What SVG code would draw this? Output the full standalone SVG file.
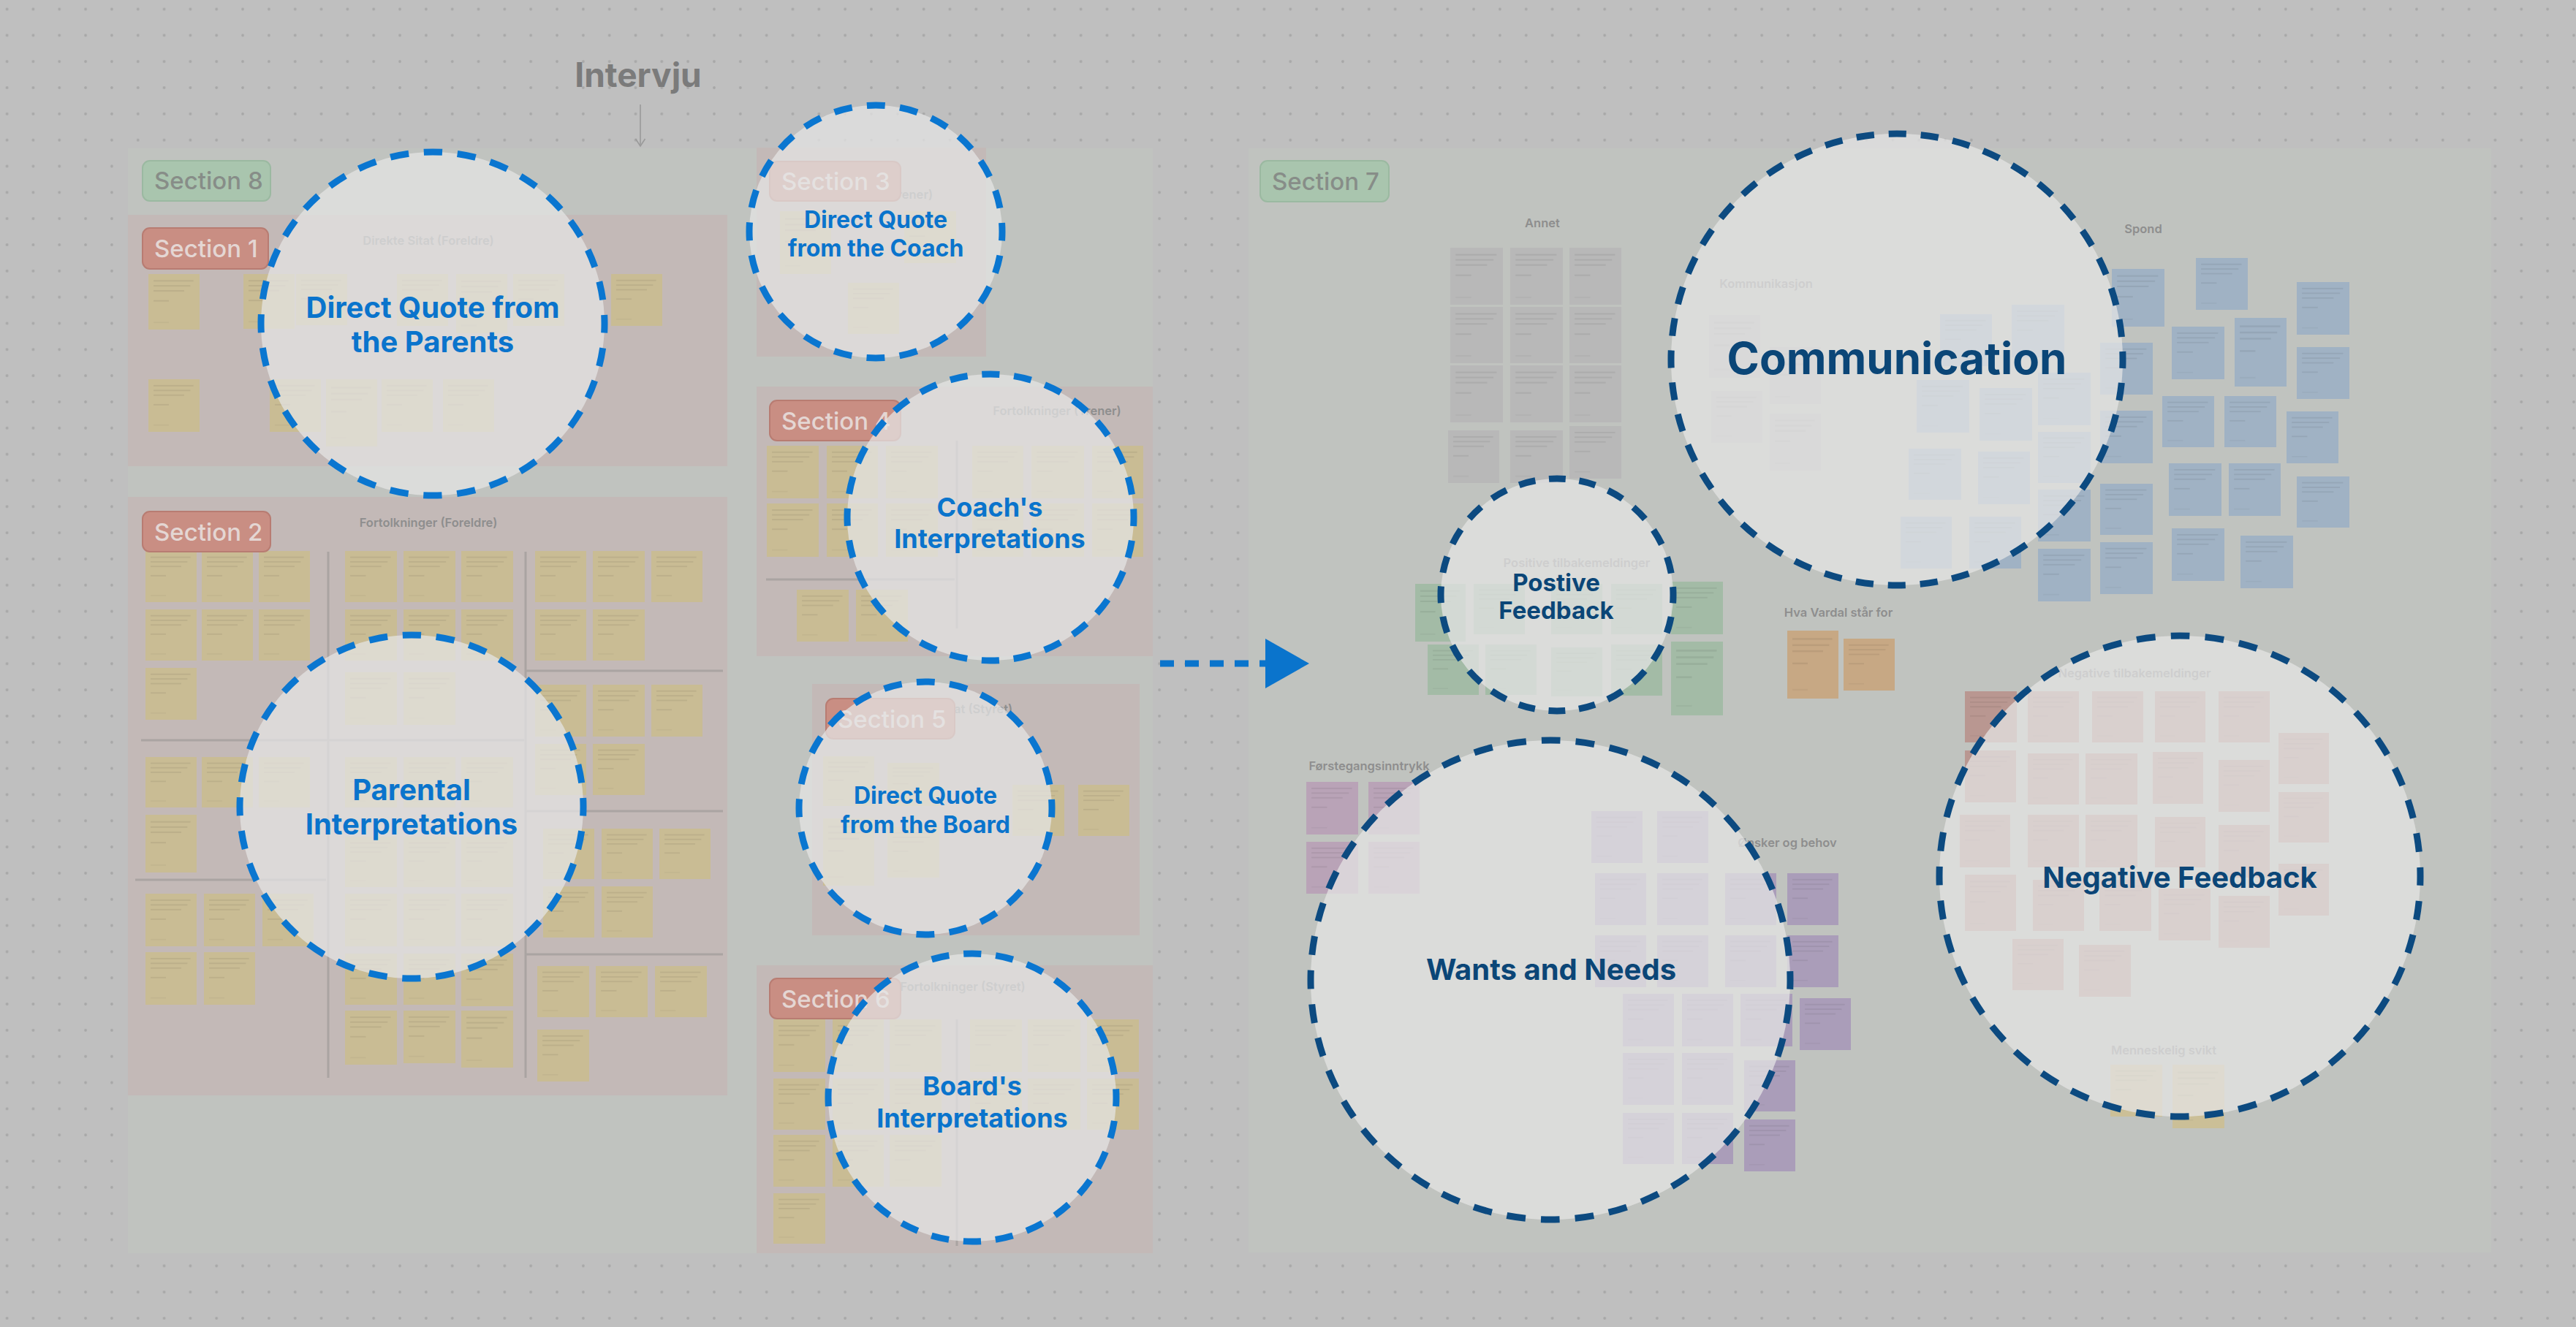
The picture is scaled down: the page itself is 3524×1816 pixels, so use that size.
<svg xmlns="http://www.w3.org/2000/svg" width="3524" height="1816" viewBox="0 0 3524 1816">
<defs>
<pattern id="dots" patternUnits="userSpaceOnUse" x="-8.3" y="-5.4" width="35.83" height="35.83"><circle cx="17.9" cy="17.9" r="1.9" fill="#a7a7a7"/></pattern>
<pattern id="tl" patternUnits="objectBoundingBox" patternContentUnits="objectBoundingBox" x="0" y="0" width="1" height="1">
<g fill="#000" fill-opacity="0.065">
<rect x="0.1" y="0.11" width="0.78" height="0.026"/>
<rect x="0.1" y="0.2" width="0.72" height="0.026"/>
<rect x="0.1" y="0.29" width="0.6" height="0.026"/>
<rect x="0.1" y="0.47" width="0.3" height="0.026"/>
</g>
<rect x="0.1" y="0.86" width="0.3" height="0.022" fill="#000" fill-opacity="0.035"/>
</pattern>
<style>
.area{fill:#c0c3bf}
.sec{fill:#c3b9b7}
.lblR{fill:#c98e83;stroke:#b87c72;stroke-width:2}
.lblG{fill:#a9c5ae;stroke:#9bb9a1;stroke-width:2}
.lt{font-family:Inter,"Liberation Sans",sans-serif;font-weight:500;font-size:33px}
.ltR{fill:#e4d6d3}
.ltG{fill:#878d88}
.ttl{font-family:Inter,"Liberation Sans",sans-serif;font-weight:600;font-size:16.5px;fill:#8e8e8e;text-anchor:middle}
.div{stroke:#aaa4a2;stroke-width:3;fill:none}
.cb{fill:#e4e4e4;fill-opacity:0.74;stroke:#0a76d0;stroke-width:9}
.cn{fill:#e4e4e4;fill-opacity:0.74;stroke:#0c4a80;stroke-width:9}
.tb{font-family:Inter,"Liberation Sans",sans-serif;font-weight:700;fill:#0a74cc;text-anchor:middle}
.tn{font-family:Inter,"Liberation Sans",sans-serif;font-weight:700;fill:#0b4677;text-anchor:middle}
</style>
</defs>

<rect x="0" y="0" width="3524" height="1816" fill="#bfbfbf"/>
<rect x="0" y="0" width="3524" height="1816" fill="url(#dots)"/>

<!-- Big section areas -->
<g id="section8">
<rect class="area" x="175" y="203" width="1402" height="1512"/>
<rect class="lblG" x="195" y="220" width="175" height="55" rx="10"/>
<text class="lt ltG" x="211" y="259">Section 8</text>
</g>
<g id="section7">
<rect class="area" x="1708" y="203" width="1700" height="1511"/>
<rect class="lblG" x="1724" y="220" width="176" height="56" rx="10"/>
<text class="lt ltG" x="1740" y="260">Section 7</text>
</g>

<!-- Section 1 -->
<g id="section1">
<rect class="sec" x="175" y="294" width="820" height="344"/>
<text class="ttl" x="586" y="335">Direkte Sitat (Foreldre)</text>
<g fill="#c9bc94"><g id="st1">
<rect x="203" y="375" width="70" height="76"/><rect x="333" y="375" width="70" height="75"/><rect x="405" y="375" width="70" height="70"/>
<rect x="543" y="375" width="70" height="71"/><rect x="624" y="375" width="70" height="81"/><rect x="702" y="375" width="70" height="71"/>
<rect x="836" y="375" width="70" height="71"/>
<rect x="203" y="519" width="70" height="72"/><rect x="369" y="519" width="70" height="72"/><rect x="446" y="519" width="70" height="92"/>
<rect x="522" y="519" width="70" height="72"/><rect x="606" y="519" width="70" height="72"/>
</g></g>
<use href="#st1" fill="url(#tl)"/>
<rect class="lblR" x="195" y="312" width="172" height="56" rx="10"/>
<text class="lt ltR" x="211" y="352">Section 1</text>
</g>

<!-- Section 2 -->
<g id="section2">
<rect class="sec" x="175" y="680" width="820" height="819"/>
<text class="ttl" x="586" y="721">Fortolkninger (Foreldre)</text>
<path class="div" d="M449 755V1475M719 755V1475M193 1013H717M185 1204H446M720 918H989M720 1110H989M720 1306H989"/>
<g fill="#c9bc94"><g id="st2">
<rect x="199" y="754" width="70" height="70"/><rect x="276" y="754" width="70" height="70"/><rect x="354" y="754" width="70" height="70"/>
<rect x="199" y="834" width="70" height="70"/><rect x="276" y="834" width="70" height="70"/><rect x="354" y="834" width="70" height="70"/>
<rect x="199" y="914" width="70" height="71"/>
<rect x="472" y="754" width="71" height="70"/><rect x="552" y="754" width="71" height="70"/><rect x="631" y="754" width="71" height="70"/>
<rect x="472" y="834" width="71" height="70"/><rect x="552" y="834" width="71" height="70"/><rect x="631" y="834" width="71" height="70"/>
<rect x="472" y="920" width="71" height="72"/><rect x="552" y="920" width="71" height="72"/>
<rect x="732" y="754" width="70" height="70"/><rect x="811" y="754" width="71" height="70"/><rect x="891" y="754" width="70" height="70"/>
<rect x="732" y="834" width="70" height="70"/><rect x="811" y="834" width="71" height="70"/>
<rect x="199" y="1036" width="70" height="69"/><rect x="276" y="1036" width="70" height="69"/><rect x="354" y="1036" width="70" height="69"/>
<rect x="199" y="1115" width="70" height="79"/>
<rect x="199" y="1223" width="70" height="72"/><rect x="279" y="1223" width="70" height="72"/><rect x="359" y="1223" width="70" height="72"/>
<rect x="199" y="1303" width="70" height="72"/><rect x="279" y="1303" width="70" height="72"/>
<rect x="472" y="1036" width="71" height="69"/><rect x="552" y="1036" width="71" height="69"/><rect x="631" y="1036" width="71" height="69"/>
<rect x="472" y="1145" width="71" height="69"/><rect x="552" y="1145" width="71" height="69"/><rect x="631" y="1145" width="71" height="69"/>
<rect x="472" y="1223" width="71" height="72"/><rect x="552" y="1223" width="71" height="72"/><rect x="631" y="1223" width="71" height="72"/>
<rect x="472" y="1305" width="71" height="70"/><rect x="552" y="1305" width="71" height="70"/><rect x="631" y="1305" width="71" height="72"/>
<rect x="472" y="1383" width="71" height="74"/><rect x="552" y="1383" width="71" height="72"/><rect x="631" y="1383" width="71" height="78"/>
<rect x="732" y="937" width="70" height="71"/><rect x="811" y="937" width="71" height="71"/><rect x="891" y="937" width="70" height="71"/>
<rect x="732" y="1018" width="70" height="70"/><rect x="811" y="1018" width="71" height="70"/>
<rect x="743" y="1134" width="70" height="69"/><rect x="823" y="1134" width="70" height="69"/><rect x="902" y="1134" width="70" height="69"/>
<rect x="743" y="1213" width="70" height="70"/><rect x="823" y="1213" width="70" height="70"/>
<rect x="735" y="1322" width="71" height="70"/><rect x="815" y="1322" width="71" height="70"/><rect x="896" y="1322" width="71" height="70"/>
<rect x="735" y="1409" width="71" height="71"/>
</g></g>
<use href="#st2" fill="url(#tl)"/>
<rect class="lblR" x="195" y="700" width="175" height="55" rx="10"/>
<text class="lt ltR" x="211" y="740">Section 2</text>
</g>

<!-- Section 3 -->
<g id="section3">
<rect class="sec" x="1035" y="202" width="314" height="286"/>
<text class="ttl" x="1193" y="272">Direkte Sitat (Trener)</text>
<g fill="#c9bc94"><g id="st3">
<rect x="1067" y="289" width="70" height="86"/><rect x="1237" y="289" width="71" height="71"/><rect x="1160" y="387" width="70" height="70"/>
</g></g>
<use href="#st3" fill="url(#tl)"/>
<rect class="lblR" x="1053" y="221" width="179" height="54" rx="10"/>
<text class="lt ltR" x="1069" y="260">Section 3</text>
</g>

<!-- Section 4 -->
<g id="section4">
<rect class="sec" x="1035" y="529" width="542" height="369"/>
<text class="ttl" x="1446" y="568">Fortolkninger (Trener)</text>
<path class="div" d="M1309 603V860M1048 793H1306"/>
<g fill="#c9bc94"><g id="st4">
<rect x="1049" y="610" width="71" height="72"/><rect x="1131" y="610" width="70" height="72"/><rect x="1212" y="610" width="71" height="72"/>
<rect x="1330" y="610" width="70" height="72"/><rect x="1411" y="610" width="72" height="72"/><rect x="1494" y="610" width="70" height="72"/>
<rect x="1049" y="689" width="71" height="73"/><rect x="1131" y="689" width="70" height="73"/><rect x="1212" y="689" width="71" height="73"/>
<rect x="1330" y="689" width="70" height="73"/><rect x="1411" y="689" width="72" height="73"/><rect x="1494" y="689" width="70" height="73"/>
<rect x="1090" y="807" width="71" height="71"/><rect x="1171" y="807" width="71" height="71"/>
</g></g>
<use href="#st4" fill="url(#tl)"/>
<rect class="lblR" x="1053" y="548" width="179" height="55" rx="10"/>
<text class="lt ltR" x="1069" y="588">Section 4</text>
</g>

<!-- Section 5 -->
<g id="section5">
<rect class="sec" x="1111" y="936" width="448" height="344"/>
<text class="ttl" x="1304" y="976">Direkte Sitat (Styret)</text>
<g fill="#c9bc94"><g id="st5">
<rect x="1126" y="1035" width="70" height="68"/><rect x="1214" y="1044" width="71" height="59"/>
<rect x="1126" y="1120" width="70" height="92"/><rect x="1214" y="1131" width="71" height="70"/>
<rect x="1385" y="1074" width="71" height="70"/><rect x="1475" y="1074" width="70" height="70"/>
</g></g>
<use href="#st5" fill="url(#tl)"/>
<rect class="lblR" x="1130" y="956" width="176" height="55" rx="10"/>
<text class="lt ltR" x="1146" y="996">Section 5</text>
</g>

<!-- Section 6 -->
<g id="section6">
<rect class="sec" x="1035" y="1321" width="542" height="394"/>
<text class="ttl" x="1317" y="1356">Fortolkninger (Styret)</text>
<path class="div" d="M1309 1395V1705"/>
<g fill="#c9bc94"><g id="st6">
<rect x="1058" y="1395" width="71" height="72"/><rect x="1139" y="1395" width="70" height="72"/><rect x="1217" y="1395" width="71" height="72"/>
<rect x="1327" y="1395" width="71" height="72"/><rect x="1406" y="1395" width="72" height="72"/><rect x="1487" y="1395" width="71" height="72"/>
<rect x="1058" y="1476" width="71" height="70"/><rect x="1139" y="1476" width="70" height="70"/><rect x="1217" y="1476" width="71" height="70"/>
<rect x="1327" y="1476" width="71" height="70"/><rect x="1406" y="1476" width="72" height="70"/><rect x="1487" y="1476" width="71" height="70"/>
<rect x="1058" y="1553" width="71" height="71"/><rect x="1139" y="1553" width="70" height="71"/><rect x="1217" y="1553" width="71" height="71"/>
<rect x="1058" y="1633" width="71" height="69"/>
</g></g>
<use href="#st6" fill="url(#tl)"/>
<rect class="lblR" x="1053" y="1339" width="179" height="55" rx="10"/>
<text class="lt ltR" x="1069" y="1379">Section 6</text>
</g>

<!-- Section 7 clusters -->
<g id="annet">
<text class="ttl" x="2110" y="311">Annet</text>
<g fill="#b8b8b8"><g id="st7">
<rect x="1984" y="339" width="72" height="78"/><rect x="2066" y="339" width="72" height="78"/><rect x="2147" y="339" width="71" height="78"/>
<rect x="1984" y="420" width="72" height="77"/><rect x="2066" y="420" width="72" height="77"/><rect x="2147" y="420" width="71" height="77"/>
<rect x="1984" y="500" width="72" height="78"/><rect x="2066" y="500" width="72" height="78"/><rect x="2147" y="500" width="71" height="78"/>
<rect x="1981" y="589" width="70" height="72"/><rect x="2066" y="589" width="72" height="72"/><rect x="2147" y="583" width="71" height="72"/>
</g></g>
<use href="#st7" fill="url(#tl)"/>
</g>
<g id="kommunikasjon">
<text class="ttl" x="2416" y="394">Kommunikasjon</text>
<g fill="#b8b8b8"><g id="st8">
<rect x="2338" y="431" width="70" height="86"/><rect x="2421" y="475" width="70" height="78"/>
<rect x="2341" y="535" width="70" height="71"/><rect x="2421" y="566" width="70" height="78"/>
</g></g>
<use href="#st8" fill="url(#tl)"/>
</g>
<g id="spond">
<text class="ttl" x="2932" y="319">Spond</text>
<g fill="#a0b2c4"><g id="st9">
<rect x="2654" y="430" width="71" height="71"/><rect x="2752" y="417" width="72" height="72"/>
<rect x="2622" y="520" width="72" height="72"/><rect x="2708" y="531" width="72" height="72"/>
<rect x="2611" y="614" width="72" height="70"/><rect x="2706" y="618" width="71" height="72"/>
<rect x="2600" y="707" width="70" height="71"/><rect x="2694" y="707" width="71" height="71"/>
<rect x="2788" y="510" width="72" height="72"/><rect x="2788" y="591" width="72" height="70"/>
<rect x="2788" y="670" width="72" height="71"/><rect x="2788" y="751" width="72" height="72"/>
<rect x="2873" y="469" width="72" height="71"/><rect x="2873" y="562" width="72" height="72"/>
<rect x="2873" y="662" width="72" height="70"/><rect x="2873" y="742" width="72" height="71"/>
<rect x="2889" y="368" width="72" height="79"/><rect x="3004" y="353" width="71" height="71"/>
<rect x="3142" y="386" width="72" height="72"/><rect x="2971" y="447" width="72" height="72"/>
<rect x="3057" y="435" width="71" height="94"/><rect x="3142" y="475" width="72" height="71"/>
<rect x="2958" y="542" width="71" height="70"/><rect x="3043" y="542" width="71" height="70"/>
<rect x="3128" y="563" width="71" height="71"/><rect x="2967" y="634" width="72" height="72"/>
<rect x="3049" y="634" width="71" height="72"/><rect x="3142" y="652" width="72" height="70"/>
<rect x="2971" y="723" width="72" height="72"/><rect x="3065" y="733" width="72" height="72"/>
</g></g>
<use href="#st9" fill="url(#tl)"/>
</g>
<g id="positive">
<text class="ttl" x="2157" y="776">Positive tilbakemeldinger</text>
<g fill="#a3bba6"><g id="st10">
<rect x="1936" y="799" width="69" height="79"/><rect x="2016" y="799" width="70" height="69"/><rect x="2122" y="799" width="70" height="69"/>
<rect x="2204" y="799" width="70" height="69"/><rect x="2286" y="796" width="71" height="72"/>
<rect x="1953" y="882" width="70" height="69"/><rect x="2032" y="882" width="70" height="69"/><rect x="2122" y="886" width="70" height="67"/>
<rect x="2204" y="882" width="70" height="70"/><rect x="2286" y="878" width="71" height="101"/>
</g></g>
<use href="#st10" fill="url(#tl)"/>
</g>
<g id="vardal">
<text class="ttl" x="2515" y="844">Hva Vardal står for</text>
<g fill="#c7a884"><g id="st11"><rect x="2445" y="863" width="70" height="93"/><rect x="2522" y="874" width="70" height="71"/></g></g>
<use href="#st11" fill="url(#tl)"/>
</g>
<g id="forstegang">
<text class="ttl" x="1873" y="1054">Førstegangsinntrykk</text>
<g fill="#b9a3b7"><g id="st12">
<rect x="1787" y="1070" width="71" height="72"/><rect x="1872" y="1070" width="70" height="72"/>
<rect x="1787" y="1152" width="71" height="71"/><rect x="1872" y="1152" width="70" height="71"/>
</g></g>
<use href="#st12" fill="url(#tl)"/>
</g>
<g id="onsker">
<text class="ttl" x="2445" y="1159">Ønsker og behov</text>
<g fill="#aa9db9"><g id="st13">
<rect x="2177" y="1110" width="70" height="71"/><rect x="2267" y="1110" width="70" height="71"/>
<rect x="2182" y="1195" width="70" height="71"/><rect x="2267" y="1195" width="70" height="71"/><rect x="2360" y="1195" width="70" height="71"/><rect x="2445" y="1195" width="70" height="71"/>
<rect x="2182" y="1280" width="70" height="71"/><rect x="2267" y="1280" width="70" height="71"/><rect x="2360" y="1280" width="70" height="71"/><rect x="2445" y="1280" width="70" height="71"/>
<rect x="2220" y="1360" width="70" height="72"/><rect x="2301" y="1360" width="70" height="72"/><rect x="2381" y="1360" width="71" height="72"/><rect x="2462" y="1366" width="70" height="71"/>
<rect x="2220" y="1441" width="70" height="71"/><rect x="2301" y="1441" width="70" height="71"/><rect x="2386" y="1451" width="70" height="70"/>
<rect x="2220" y="1523" width="70" height="70"/><rect x="2301" y="1523" width="70" height="70"/><rect x="2386" y="1532" width="70" height="71"/>
</g></g>
<use href="#st13" fill="url(#tl)"/>
</g>
<g id="negative">
<text class="ttl" x="2920" y="927">Negative tilbakemeldinger</text>
<g fill="#b99791"><g id="st14">
<rect x="2688" y="946" width="71" height="70"/><rect x="2774" y="946" width="70" height="70"/><rect x="2862" y="946" width="70" height="70"/><rect x="2948" y="946" width="69" height="70"/><rect x="3035" y="946" width="70" height="70"/>
<rect x="3117" y="1003" width="69" height="70"/>
<rect x="2688" y="1027" width="70" height="71"/><rect x="2774" y="1031" width="70" height="70"/><rect x="2853" y="1031" width="71" height="70"/><rect x="2945" y="1029" width="69" height="71"/>
<rect x="3035" y="1040" width="70" height="71"/><rect x="3117" y="1084" width="69" height="69"/>
<rect x="2681" y="1115" width="69" height="72"/><rect x="2774" y="1115" width="70" height="72"/><rect x="2853" y="1115" width="71" height="72"/><rect x="2948" y="1118" width="69" height="69"/>
<rect x="3035" y="1129" width="70" height="72"/><rect x="3117" y="1182" width="69" height="71"/>
<rect x="2688" y="1197" width="70" height="77"/><rect x="2781" y="1204" width="70" height="70"/><rect x="2872" y="1204" width="71" height="70"/><rect x="2953" y="1216" width="71" height="71"/><rect x="3035" y="1226" width="70" height="71"/>
<rect x="2753" y="1285" width="70" height="70"/><rect x="2844" y="1293" width="71" height="71"/>
</g></g>
<use href="#st14" fill="url(#tl)"/>
</g>
<g id="menneskelig">
<text class="ttl" x="2960" y="1443">Menneskelig svikt</text>
<g fill="#cbbf97"><g id="st15"><rect x="2887" y="1457" width="71" height="71"/><rect x="2972" y="1457" width="71" height="87"/></g></g>
<use href="#st15" fill="url(#tl)"/>
</g>

<!-- Connectors -->
<g id="connectors">
<path d="M876 143V199" stroke="#9a9a9a" stroke-width="1.6" fill="none"/>
<path d="M869.5 190L876 200L882.5 190" stroke="#9a9a9a" stroke-width="1.6" fill="none"/>
<path d="M1587 908H1735" stroke="#0a74cc" stroke-width="9" stroke-dasharray="19 15" fill="none"/>
<path d="M1731 874L1791 908L1731 942Z" fill="#0a74cc"/>
</g>

<g id="intervju"><text x="873" y="119" text-anchor="middle" font-family="Inter,'Liberation Sans',sans-serif" font-weight="700" font-size="46" fill="#7b7b7b">Intervju</text></g>

<!-- Circle nodes -->
<g id="c-parents">
<circle class="cb" cx="592" cy="443" r="235" stroke-dasharray="25.4 20.74" stroke-dashoffset="12.7"/>
<text class="tb" font-size="40" x="592" y="435">Direct Quote from</text>
<text class="tb" font-size="40" x="592" y="482">the Parents</text>
</g>
<g id="c-coach-quote">
<circle class="cb" cx="1198" cy="317" r="173" stroke-dasharray="24.9 20.39" stroke-dashoffset="12.45"/>
<text class="tb" font-size="32" x="1198" y="312">Direct Quote</text>
<text class="tb" font-size="32" x="1198" y="351">from the Coach</text>
</g>
<g id="c-parental">
<circle class="cb" cx="563" cy="1104" r="235" stroke-dasharray="25.4 20.74" stroke-dashoffset="12.7"/>
<text class="tb" font-size="40" x="563" y="1095">Parental</text>
<text class="tb" font-size="40" x="563" y="1142">Interpretations</text>
</g>
<g id="c-coach-interp">
<circle class="cb" cx="1355" cy="708" r="196" stroke-dasharray="24.2 19.78" stroke-dashoffset="12.1"/>
<text class="tb" font-size="36" x="1354" y="707">Coach's</text>
<text class="tb" font-size="36" x="1354" y="750">Interpretations</text>
</g>
<g id="c-board-quote">
<circle class="cb" cx="1266" cy="1106" r="173" stroke-dasharray="24.9 20.39" stroke-dashoffset="12.45"/>
<text class="tb" font-size="32" x="1266" y="1100">Direct Quote</text>
<text class="tb" font-size="32" x="1266" y="1140">from the Board</text>
</g>
<g id="c-board-interp">
<circle class="cb" cx="1330" cy="1502" r="197" stroke-dasharray="24.3 19.9" stroke-dashoffset="12.15"/>
<text class="tb" font-size="36" x="1330" y="1499">Board's</text>
<text class="tb" font-size="36" x="1330" y="1543">Interpretations</text>
</g>
<g id="c-communication">
<circle class="cn" cx="2595" cy="492" r="309" stroke-dasharray="24.3 19.83" stroke-dashoffset="12.15"/>
<text class="tn" font-size="60" x="2595" y="512">Communication</text>
</g>
<g id="c-positive">
<circle class="cn" cx="2130" cy="814" r="159" stroke-dasharray="22.9 18.73" stroke-dashoffset="11.45"/>
<text class="tn" font-size="33" x="2129" y="809">Postive</text>
<text class="tn" font-size="33" x="2129" y="847">Feedback</text>
</g>
<g id="c-wants">
<circle class="cn" cx="2121" cy="1341" r="328" stroke-dasharray="25.8 21.04" stroke-dashoffset="12.9"/>
<text class="tn" font-size="40" x="2122" y="1341">Wants and Needs</text>
</g>
<g id="c-negative">
<circle class="cn" cx="2982" cy="1199" r="329" stroke-dasharray="25.8 21.18" stroke-dashoffset="12.9"/>
<text class="tn" font-size="40" x="2982" y="1215">Negative Feedback</text>
</g>
</svg>
